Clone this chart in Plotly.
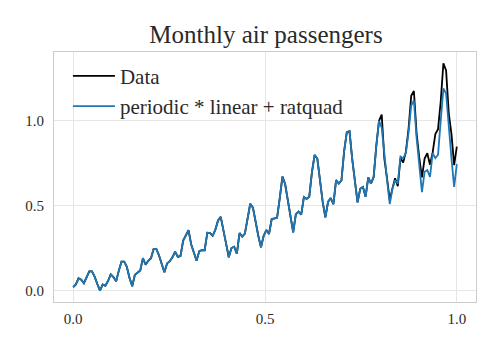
import plotly.graph_objects as go

# Monthly international airline passengers (thousands), Jan 1949 .. Dec 1960
passengers = [
    112, 118, 132, 129, 121, 135, 148, 148, 136, 119, 104, 118,
    115, 126, 141, 135, 125, 149, 170, 170, 158, 133, 114, 140,
    145, 150, 178, 163, 172, 178, 199, 199, 184, 162, 146, 166,
    171, 180, 193, 181, 183, 218, 230, 242, 209, 191, 172, 194,
    196, 196, 236, 235, 229, 243, 264, 272, 237, 211, 180, 201,
    204, 188, 235, 227, 234, 264, 302, 293, 259, 229, 203, 229,
    242, 233, 267, 269, 270, 315, 364, 347, 312, 274, 237, 278,
    284, 277, 317, 313, 318, 374, 413, 405, 355, 306, 271, 306,
    315, 301, 356, 348, 355, 422, 465, 467, 404, 347, 305, 336,
    340, 318, 362, 348, 363, 435, 491, 505, 404, 359, 310, 337,
    360, 342, 406, 396, 420, 472, 548, 559, 463, 407, 362, 405,
    417, 391, 419, 461, 472, 535, 622, 606, 508, 461, 390, 432,
]
n_train = 115  # first 80% used for fitting / scaling

# model forecast after the training window (normalised units)
forecast = [
    0.96, 0.79, 0.65, 0.51, 0.60, 0.65, 0.63, 0.79, 0.78, 0.81,
    0.93, 1.09, 1.12, 0.90, 0.73, 0.58, 0.70, 0.71, 0.67, 0.81,
    0.78, 0.80, 1.00, 1.19, 1.16, 0.95, 0.78, 0.61, 0.745,
]

lo = min(passengers[:n_train])
hi = max(passengers[:n_train])
y_data = [(v - lo) / (hi - lo) for v in passengers]
x = [i / (len(passengers) - 1) for i in range(len(passengers))]

# in the training window the fit sits on top of the data
y_model = y_data[:n_train] + forecast

SERIF = "Liberation Serif, DejaVu Serif, serif"
TEXT = "#2a2a2a"
GRID = "#e6e6e6"

fig = go.Figure()
fig.add_trace(go.Scatter(
    x=x, y=y_data, mode="lines", name="Data",
    line=dict(color="black", width=1.8),
))
fig.add_trace(go.Scatter(
    x=x, y=y_model, mode="lines", name="periodic * linear + ratquad",
    line=dict(color="#1f77b4", width=1.8),
))

# page body has an 8px margin, so the figure is offset by 8px right and down
fig.update_layout(
    width=500, height=350,
    margin=dict(l=46, r=32, t=44, b=56, autoexpand=False),
    paper_bgcolor="white", plot_bgcolor="white",
    font=dict(family=SERIF, color=TEXT, size=15),
    title=dict(text="Monthly air passengers", x=0.516, xanchor="center",
               y=0.9, yanchor="bottom", font=dict(size=25, color=TEXT)),
    legend=dict(x=0.033, y=0.985, xanchor="left", yanchor="top",
                bgcolor="rgba(255,255,255,0)", font=dict(size=21, color=TEXT),
                itemwidth=42, tracegroupgap=0),
    showlegend=True,
)
fig.update_xaxes(
    range=[-0.05, 1.05], tickvals=[0, 0.5, 1.0], ticktext=["0.0", "0.5", "1.0"],
    showgrid=True, gridcolor=GRID, gridwidth=1, zeroline=False,
    showline=True, linecolor="#cccccc", linewidth=1, mirror=True,
    ticks="", ticklabelstandoff=3, automargin=False,
)
fig.update_yaxes(
    range=[-0.067, 1.405], tickvals=[0, 0.5, 1.0], ticktext=["0.0", "0.5", "1.0"],
    showgrid=True, gridcolor=GRID, gridwidth=1, zeroline=False,
    showline=True, linecolor="#cccccc", linewidth=1, mirror=True,
    ticks="", ticklabelstandoff=6, automargin=False,
)

fig.write_html("out.html")
